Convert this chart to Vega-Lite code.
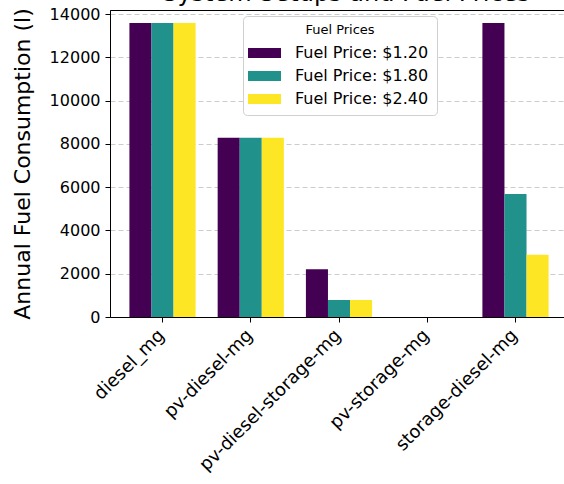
{
  "$schema": "https://vega.github.io/schema/vega-lite/v6.json",
  "width": 458,
  "height": 307,
  "autosize": {"type": "none"},
  "padding": {"left": 110, "top": 10, "right": 0, "bottom": 167},
  "title": {
    "text": "System Setups and Fuel Prices",
    "fontSize": 24,
    "font": "DejaVu Sans",
    "fontWeight": "normal",
    "color": "#000000",
    "anchor": "middle",
    "frame": "group",
    "baseline": "alphabetic",
    "offset": 7,
    "dx": 7,
    "dy": 26
  },
  "data": {
    "values": [
      {"setup": "diesel_mg", "price": "Fuel Price: $1.20", "fuel": 13590},
      {"setup": "diesel_mg", "price": "Fuel Price: $1.80", "fuel": 13590},
      {"setup": "diesel_mg", "price": "Fuel Price: $2.40", "fuel": 13590},
      {"setup": "pv-diesel-mg", "price": "Fuel Price: $1.20", "fuel": 8290},
      {"setup": "pv-diesel-mg", "price": "Fuel Price: $1.80", "fuel": 8290},
      {"setup": "pv-diesel-mg", "price": "Fuel Price: $2.40", "fuel": 8290},
      {"setup": "pv-diesel-storage-mg", "price": "Fuel Price: $1.20", "fuel": 2205},
      {"setup": "pv-diesel-storage-mg", "price": "Fuel Price: $1.80", "fuel": 786},
      {"setup": "pv-diesel-storage-mg", "price": "Fuel Price: $2.40", "fuel": 786},
      {"setup": "pv-storage-mg", "price": "Fuel Price: $1.20", "fuel": 0},
      {"setup": "pv-storage-mg", "price": "Fuel Price: $1.80", "fuel": 0},
      {"setup": "pv-storage-mg", "price": "Fuel Price: $2.40", "fuel": 0},
      {"setup": "storage-diesel-mg", "price": "Fuel Price: $1.20", "fuel": 13590},
      {"setup": "storage-diesel-mg", "price": "Fuel Price: $1.80", "fuel": 5687},
      {"setup": "storage-diesel-mg", "price": "Fuel Price: $2.40", "fuel": 2880}
    ]
  },
  "mark": {"type": "bar"},
  "encoding": {
    "x": {
      "field": "setup",
      "type": "nominal",
      "sort": null,
      "scale": {"paddingInner": 0.25, "paddingOuter": 0.22},
      "axis": {
        "title": null,
        "labelAngle": -45,
        "labelAlign": "right",
        "labelBaseline": "top",
        "labelFontSize": 18,
        "labelColor": "#000000",
        "labelPadding": 4,
        "labelOffset": -7,
        "labelLimit": 400,
        "tickSize": 5,
        "tickColor": "#000000",
        "domainColor": "#000000",
        "grid": false
      }
    },
    "xOffset": {"field": "price", "type": "nominal", "sort": null},
    "y": {
      "field": "fuel",
      "type": "quantitative",
      "scale": {"domain": [0, 14195], "nice": false},
      "axis": {
        "title": "Annual Fuel Consumption (l)",
        "titleFontSize": 22,
        "titleFontWeight": "normal",
        "titleColor": "#000000",
        "titlePadding": 15,
        "format": "d",
        "values": [0, 2000, 4000, 6000, 8000, 10000, 12000, 14000],
        "labelFontSize": 16,
        "labelColor": "#000000",
        "labelPadding": 5,
        "tickSize": 5,
        "tickColor": "#000000",
        "domainColor": "#000000",
        "grid": true,
        "gridDash": [5, 3],
        "gridColor": "#cccccc"
      }
    },
    "color": {
      "field": "price",
      "type": "nominal",
      "sort": null,
      "scale": {"range": ["#440154", "#21918c", "#fde725"]},
      "legend": {
        "orient": "none",
        "legendX": 133,
        "legendY": 6,
        "title": "Fuel Prices",
        "titleFontSize": 13,
        "titleFontWeight": "normal",
        "titleColor": "#000000",
        "titleAnchor": "middle",
        "titlePadding": 6,
        "labelFontSize": 16,
        "labelColor": "#000000",
        "symbolType": "M-1.3,-0.5H2V0.5H-1.3Z",
        "symbolSize": 400,
        "symbolStrokeWidth": 0,
        "symbolOpacity": 1,
        "labelOffset": 24,
        "rowPadding": 5,
        "padding": 8,
        "fillColor": "white",
        "strokeColor": "#d0d0d0",
        "cornerRadius": 4
      }
    }
  },
  "config": {
    "font": "DejaVu Sans",
    "view": {"stroke": "#000000", "strokeWidth": 1}
  }
}
